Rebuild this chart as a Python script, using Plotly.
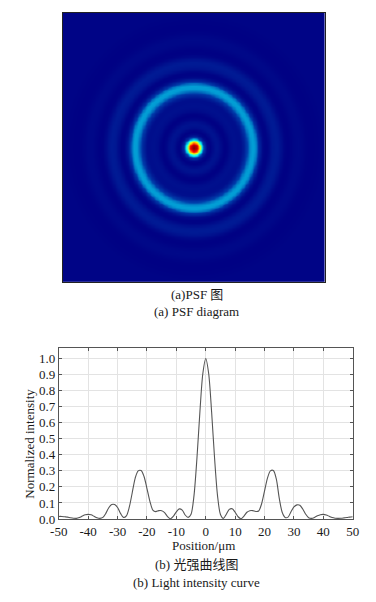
import numpy as np
import plotly.graph_objects as go

# ---- Data ----
# Light intensity curve (Position in µm, normalized intensity)
positions = list(range(-50, 51))
intensity_left = [  # positions -50 .. -1
    0.016, 0.016, 0.014, 0.012, 0.008, 0.005, 0.004, 0.009, 0.018, 0.026,
    0.029, 0.026, 0.017, 0.008, 0.004, 0.010, 0.035, 0.070, 0.090, 0.090,
    0.072, 0.035, 0.010, 0.020, 0.075, 0.165, 0.255, 0.300, 0.302, 0.265,
    0.190, 0.110, 0.055, 0.046, 0.052, 0.052, 0.040, 0.015, 0.002, 0.018,
    0.045, 0.063, 0.055, 0.025, 0.010, 0.030, 0.146, 0.378, 0.665, 0.905,
]
intensity_right = [  # positions 0 .. 50
    1.000, 0.905, 0.665, 0.378, 0.146, 0.028, 0.004, 0.030, 0.060, 0.064,
    0.042, 0.014, 0.002, 0.018, 0.042, 0.052, 0.052, 0.047, 0.050, 0.095,
    0.175, 0.255, 0.300, 0.302, 0.250, 0.130, 0.042, 0.010, 0.012, 0.045,
    0.075, 0.088, 0.086, 0.062, 0.030, 0.008, 0.004, 0.010, 0.020, 0.027,
    0.029, 0.025, 0.017, 0.009, 0.005, 0.004, 0.005, 0.007, 0.009, 0.012,
    0.014,
]
intensity = intensity_left + intensity_right

x_ticks = list(range(-50, 51, 10))
y_ticks = [round(v * 0.1, 1) for v in range(0, 11)]

# ---- PSF image: rotate the radial profile (right half) about the centre ----
radial_pos = positions[50:]
radial_val = intensity_right
grid = np.arange(-50, 50.01, 0.5)
gx, gy = np.meshgrid(grid, grid)
r = np.sqrt(gx ** 2 + gy ** 2)
psf = np.round(np.interp(r, radial_pos, radial_val), 4)

W, H = 376, 602
def py(p):
    return 1 - p / H
def px(p):
    return p / W

FONT = "Liberation Serif, Times New Roman, Noto Sans CJK SC, serif"

fig = go.Figure()
fig.add_trace(go.Heatmap(
    x=grid, y=grid, z=psf, colorscale="Jet", zmin=0, zmax=1,
    showscale=False, zsmooth="best", xaxis="x", yaxis="y", hoverinfo="skip",
))
fig.add_trace(go.Scatter(
    x=positions, y=intensity, mode="lines",
    line=dict(color="#555555", width=1.1, shape="spline", smoothing=0.8),
    xaxis="x2", yaxis="y2", showlegend=False,
))

fig.update_layout(
    width=W, height=H,
    margin=dict(l=0, r=0, t=0, b=0),
    paper_bgcolor="white", plot_bgcolor="white",
    showlegend=False,
    font=dict(family=FONT, size=13, color="#1a1a1a"),
    xaxis=dict(domain=[px(56), px(330)], range=[-50.25, 50.25],
               showticklabels=False, showgrid=False, zeroline=False, ticks="",
               showline=True, mirror=True, linecolor="#222222", linewidth=1),
    yaxis=dict(domain=[py(286), py(13)], range=[-50.25, 50.25],
               showticklabels=False, showgrid=False, zeroline=False, ticks="",
               showline=True, mirror=True, linecolor="#222222", linewidth=1),
    xaxis2=dict(domain=[px(52), px(359)], range=[-50, 50], anchor="y2",
                tickvals=x_ticks, ticktext=[str(v) for v in x_ticks],
                showgrid=True, gridcolor="#e3e3e3", gridwidth=1, zeroline=False,
                showline=True, mirror="ticks", linecolor="#555555", linewidth=1,
                ticks="inside", ticklen=3, tickcolor="#555555",
                tickfont=dict(family=FONT, size=13, color="#1a1a1a")),
    yaxis2=dict(domain=[py(526), py(352.7)], range=[0, 1.065], anchor="x2",
                tickvals=y_ticks, ticktext=[f"{v:.1f}" for v in y_ticks],
                showgrid=True, gridcolor="#e3e3e3", gridwidth=1, zeroline=False,
                showline=True, mirror="ticks", linecolor="#555555", linewidth=1,
                ticks="inside", ticklen=3, tickcolor="#555555",
                tickfont=dict(family=FONT, size=13, color="#1a1a1a")),
)

annotations = [
    ("(a)PSF 图", 196, 298),
    ("(a) PSF diagram", 196, 316),
    ("Position/μm", 203, 553),
    ("(b) 光强曲线图", 196, 572),
    ("(b) Light intensity curve", 196, 590),
]
for text, x, y in annotations:
    fig.add_annotation(text=text, x=px(x), y=py(y), xref="paper", yref="paper",
                       xanchor="center", yanchor="middle", showarrow=False,
                       font=dict(family=FONT, size=13, color="#1a1a1a"))
fig.add_annotation(text="Normalized intensity", x=px(20.5), y=py(450),
                   xref="paper", yref="paper", textangle=-90,
                   xanchor="center", yanchor="middle", showarrow=False,
                   font=dict(family=FONT, size=13, color="#1a1a1a"))

fig.write_html(
    "out.html",
    config={"displayModeBar": False},
    post_script="document.body.style.margin='0';",
)
